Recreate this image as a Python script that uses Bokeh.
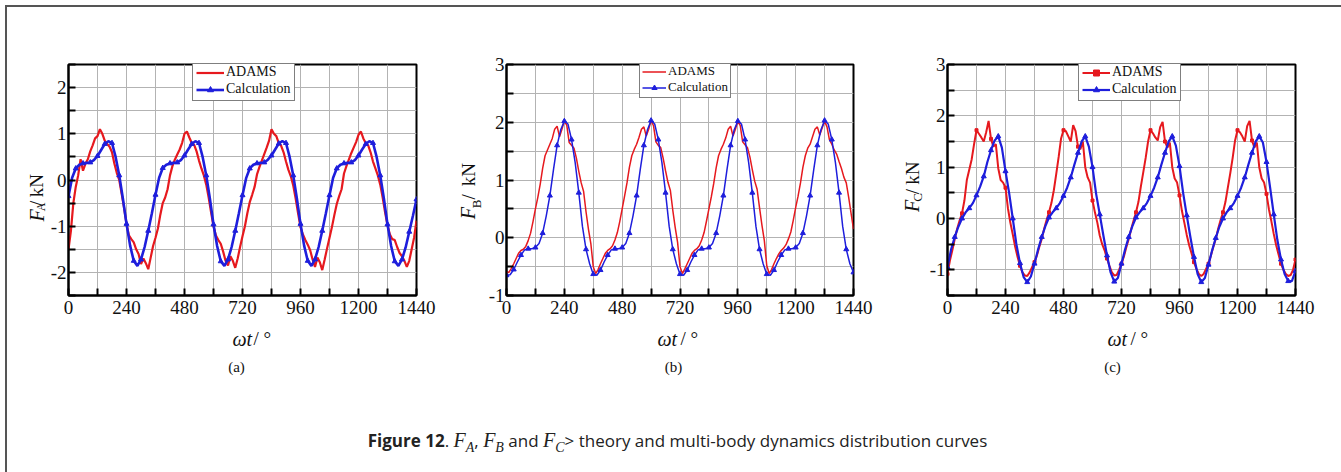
from bokeh.plotting import figure
from bokeh.models import Range1d, FixedTicker, Legend, LegendItem, Div
from bokeh.layouts import row, column
from bokeh.core.properties import value
from bokeh.embed import file_html
from bokeh.resources import INLINE

# ---------------- data ----------------
ANGLE_MAJOR = [0, 240, 480, 720, 960, 1200, 1440]
ANGLE_MINOR = [120, 360, 600, 840, 1080, 1320]
ANGLE_GRID = [0, 120, 240, 360, 480, 600, 720, 840, 960, 1080, 1200, 1320, 1440]

ADAMS_STEP = 10      # deg between ADAMS samples
CALC_STEP = 15       # deg between calculation samples

FA_ADAMS = [
    -1.50, -1.10, -0.50, -0.15, 0.10, 0.45, 0.20, 0.35, 0.45, 0.62, 0.75, 0.90, 0.95, 1.10, 1.00, 0.85, 0.78, 0.72,
    0.60, 0.35, 0.15, 0.00, -0.30, -0.60, -0.95, -1.20, -1.28, -1.35, -1.50, -1.60, -1.82, -1.70, -1.80, -1.93, -1.68, -1.43,
    -1.25, -1.05, -0.75, -0.50, -0.38, -0.20, 0.10, 0.30, 0.44, 0.55, 0.66, 0.80, 1.00, 1.05, 0.92, 0.80, 0.76, 0.62,
    0.42, 0.25, 0.10, -0.10, -0.38, -0.70, -1.00, -1.20, -1.30, -1.38, -1.55, -1.75, -1.85, -1.65, -1.75, -1.90, -1.70, -1.45,
    -1.22, -1.00, -0.72, -0.48, -0.32, -0.15, 0.12, 0.28, 0.42, 0.56, 0.70, 0.85, 1.10, 1.00, 0.95, 0.80, 0.74, 0.60,
    0.40, 0.22, 0.08, -0.12, -0.40, -0.72, -1.02, -1.18, -1.30, -1.40, -1.52, -1.72, -1.88, -1.68, -1.78, -1.95, -1.72, -1.48,
    -1.25, -1.02, -0.76, -0.52, -0.35, -0.20, 0.14, 0.30, 0.44, 0.58, 0.70, 0.82, 0.98, 1.05, 0.90, 0.80, 0.75, 0.60,
    0.40, 0.25, 0.10, -0.10, -0.38, -0.70, -0.98, -1.18, -1.28, -1.30, -1.45, -1.58, -1.65, -1.75, -1.88, -1.75, -1.50, -1.25,
    -0.88,
]
FA_CALC = [
    -0.35, 0.05, 0.25, 0.33, 0.36, 0.37, 0.38, 0.43, 0.52, 0.65, 0.78, 0.84, 0.80, 0.50, 0.10, -0.40, -0.95, -1.42, -1.75, -1.86, -1.72, -1.45, -1.10, -0.72,
    -0.32, 0.05, 0.26, 0.33, 0.36, 0.37, 0.38, 0.43, 0.53, 0.66, 0.78, 0.84, 0.80, 0.50, 0.10, -0.40, -0.96, -1.43, -1.76, -1.86, -1.72, -1.45, -1.10, -0.72,
    -0.33, 0.04, 0.25, 0.33, 0.36, 0.37, 0.38, 0.44, 0.53, 0.66, 0.79, 0.84, 0.80, 0.50, 0.10, -0.40, -0.95, -1.42, -1.75, -1.86, -1.72, -1.45, -1.10, -0.72,
    -0.33, 0.05, 0.25, 0.33, 0.36, 0.37, 0.38, 0.43, 0.53, 0.66, 0.78, 0.84, 0.80, 0.50, 0.10, -0.40, -0.96, -1.43, -1.76, -1.86, -1.72, -1.46, -1.12, -0.78,
    -0.42,
]

FB_ADAMS = [
    -0.59, -0.60, -0.53, -0.45, -0.36, -0.27, -0.22, -0.20, -0.15, -0.05, 0.08, 0.28, 0.50, 0.70, 0.93, 1.20, 1.42, 1.52,
    1.62, 1.72, 1.88, 1.93, 1.75, 1.88, 2.02, 1.95, 1.65, 1.60, 1.55, 1.38, 1.15, 0.95, 0.80, 0.45, 0.15, -0.10,
    -0.50, -0.62, -0.55, -0.45, -0.36, -0.27, -0.22, -0.19, -0.14, -0.04, 0.09, 0.28, 0.50, 0.72, 0.95, 1.22, 1.42, 1.53,
    1.62, 1.74, 1.88, 1.92, 1.76, 1.88, 2.03, 1.94, 1.66, 1.60, 1.56, 1.38, 1.16, 0.96, 0.82, 0.48, 0.18, -0.08,
    -0.50, -0.62, -0.54, -0.45, -0.36, -0.27, -0.22, -0.19, -0.14, -0.04, 0.09, 0.29, 0.50, 0.71, 0.94, 1.21, 1.42, 1.53,
    1.62, 1.73, 1.88, 1.93, 1.76, 1.88, 2.02, 1.94, 1.66, 1.61, 1.56, 1.40, 1.18, 0.98, 0.84, 0.52, 0.22, -0.05,
    -0.48, -0.62, -0.55, -0.45, -0.36, -0.28, -0.22, -0.18, -0.12, -0.02, 0.10, 0.30, 0.52, 0.72, 0.95, 1.22, 1.42, 1.55,
    1.62, 1.75, 1.88, 1.92, 1.78, 1.90, 2.02, 1.92, 1.70, 1.62, 1.52, 1.45, 1.32, 1.20, 1.05, 0.95, 0.70, 0.42,
    0.15,
]
FB_CALC = [
    -0.65, -0.64, -0.55, -0.42, -0.30, -0.21, -0.19, -0.19, -0.17, -0.10, 0.08, 0.38, 0.73, 1.18, 1.60, 1.87, 2.02, 1.97, 1.70, 1.30, 0.78, 0.20, -0.20, -0.45,
    -0.63, -0.65, -0.56, -0.42, -0.30, -0.21, -0.19, -0.19, -0.17, -0.10, 0.08, 0.38, 0.73, 1.18, 1.60, 1.87, 2.03, 1.97, 1.70, 1.30, 0.78, 0.20, -0.20, -0.45,
    -0.63, -0.65, -0.56, -0.42, -0.30, -0.21, -0.19, -0.19, -0.17, -0.10, 0.08, 0.38, 0.73, 1.18, 1.60, 1.87, 2.02, 1.97, 1.70, 1.30, 0.78, 0.20, -0.20, -0.45,
    -0.63, -0.65, -0.56, -0.42, -0.30, -0.21, -0.19, -0.19, -0.17, -0.10, 0.08, 0.38, 0.73, 1.18, 1.60, 1.87, 2.03, 1.97, 1.70, 1.30, 0.78, 0.20, -0.20, -0.45,
    -0.60,
]

FC_ADAMS = [
    -1.08, -0.82, -0.62, -0.40, -0.20, -0.04, 0.10, 0.35, 0.75, 0.95, 1.15, 1.45, 1.72, 1.65, 1.58, 1.50, 1.68, 1.90,
    1.55, 1.40, 1.45, 0.98, 0.75, 0.70, 0.60, 0.20, -0.08, -0.31, -0.55, -0.75, -0.92, -1.05, -1.11, -1.12, -1.05, -0.95,
    -0.85, -0.72, -0.55, -0.40, -0.20, -0.03, 0.12, 0.30, 0.55, 0.87, 1.20, 1.56, 1.72, 1.70, 1.60, 1.50, 1.82, 1.70,
    1.40, 1.35, 1.50, 1.00, 0.80, 0.70, 0.35, 0.12, -0.08, -0.33, -0.50, -0.62, -0.78, -0.92, -1.05, -1.11, -1.10, -1.00,
    -0.88, -0.74, -0.56, -0.40, -0.21, -0.04, 0.12, 0.32, 0.62, 0.90, 1.18, 1.50, 1.72, 1.66, 1.58, 1.52, 1.78, 1.88,
    1.50, 1.38, 1.48, 1.00, 0.78, 0.70, 0.45, 0.15, -0.08, -0.32, -0.52, -0.68, -0.85, -0.98, -1.08, -1.12, -1.08, -0.98,
    -0.88, -0.72, -0.55, -0.40, -0.20, -0.03, 0.12, 0.32, 0.60, 0.88, 1.18, 1.52, 1.72, 1.68, 1.60, 1.50, 1.80, 1.90,
    1.52, 1.38, 1.48, 1.00, 0.78, 0.70, 0.48, 0.18, -0.05, -0.30, -0.52, -0.70, -0.88, -1.00, -1.08, -1.12, -1.10, -1.00,
    -0.80,
]
FC_CALC = [
    -0.95, -0.60, -0.36, -0.16, 0.00, 0.12, 0.20, 0.30, 0.45, 0.62, 0.82, 1.10, 1.33, 1.52, 1.60, 1.38, 0.92, 0.50, 0.00, -0.50, -0.87, -1.14, -1.24, -1.13,
    -0.88, -0.60, -0.36, -0.15, 0.02, 0.12, 0.20, 0.30, 0.44, 0.60, 0.80, 1.05, 1.28, 1.50, 1.60, 1.40, 1.00, 0.48, 0.08, -0.33, -0.72, -1.05, -1.23, -1.16,
    -0.88, -0.60, -0.36, -0.15, 0.02, 0.12, 0.20, 0.30, 0.44, 0.60, 0.80, 1.05, 1.28, 1.50, 1.60, 1.42, 1.02, 0.50, 0.06, -0.36, -0.75, -1.08, -1.24, -1.16,
    -0.90, -0.62, -0.38, -0.16, 0.00, 0.12, 0.20, 0.30, 0.44, 0.60, 0.80, 1.05, 1.28, 1.50, 1.60, 1.48, 1.10, 0.60, 0.08, -0.42, -0.80, -1.08, -1.22, -1.22,
    -1.02,
]

LEGEND_LABELS = ["ADAMS", "Calculation"]
PANEL_TAGS = ["(a)", "(b)", "(c)"]
FORCE_SUBS = ["A", "B", "C"]

RED = "#e6191e"
BLUE = "#1e1edc"
SERIF = "Liberation Serif"
INK = "#111111"

ROW_H = 315          # height of the row of charts
OX, OY = 7, 7        # page position of the content origin


def panel(width, bl, br, bt, ymin, ymax, ymajor, yminor, adams, calc, lw_red, lw_blue,
          legend_loc, legend_font, glyph_w, item_h, pad, spacing, red_marker):
    p = figure(width=width, height=ROW_H, output_backend="svg", toolbar_location=None,
               x_range=Range1d(0, 1440), y_range=Range1d(ymin, ymax),
               min_border_left=bl, min_border_right=br, min_border_top=bt,
               min_border_bottom=ROW_H - bt - 233,
               background_fill_color="white", border_fill_color="white")
    p.outline_line_color = "black"
    p.outline_line_width = 2
    for ax in (p.xaxis[0], p.yaxis[0]):
        ax.axis_line_color = "black"
        ax.axis_line_width = 2
        ax.major_tick_in = 7
        ax.major_tick_out = 0
        ax.minor_tick_in = 7
        ax.minor_tick_out = 0
        ax.major_tick_line_width = 2
        ax.minor_tick_line_width = 2
        ax.major_tick_line_color = "black"
        ax.minor_tick_line_color = "black"
        ax.major_label_text_font = SERIF
        ax.major_label_text_font_size = "19px"
        ax.major_label_text_color = INK
    p.xaxis.ticker = FixedTicker(ticks=ANGLE_MAJOR, minor_ticks=ANGLE_MINOR)
    p.xaxis.major_label_standoff = 5
    p.yaxis.ticker = FixedTicker(ticks=ymajor, minor_ticks=yminor)
    p.yaxis.major_label_standoff = 2
    p.yaxis.major_label_overrides = {v: str(v) for v in ymajor}
    p.xgrid.ticker = FixedTicker(ticks=ANGLE_GRID)
    p.ygrid.ticker = FixedTicker(ticks=sorted(ymajor + yminor))
    for g in (p.xgrid[0], p.ygrid[0]):
        g.grid_line_color = "#b3b3b3"
        g.grid_line_width = 1

    xa = [i * ADAMS_STEP for i in range(len(adams))]
    xc = [i * CALC_STEP for i in range(len(calc))]
    r_red = p.line(xa, adams, line_color=RED, line_width=lw_red)
    red_items = [r_red]
    if red_marker:
        red_items.append(p.scatter(xa[::6], adams[::6], marker="square", size=3,
                                   fill_color=RED, line_color=RED))
    r_blue = p.line(xc, calc, line_color=BLUE, line_width=lw_blue)
    r_bm = p.scatter(xc[::2], calc[::2], marker="triangle", size=5, fill_color=BLUE, line_color=BLUE)

    leg = Legend(items=[LegendItem(label=LEGEND_LABELS[0], renderers=red_items),
                        LegendItem(label=LEGEND_LABELS[1], renderers=[r_blue, r_bm])],
                 location=legend_loc, border_line_color="black", border_line_width=1,
                 background_fill_color="white", background_fill_alpha=1.0,
                 label_text_font=SERIF, label_text_font_size=f"{legend_font}px",
                 label_text_color=INK,
                 glyph_width=glyph_w, glyph_height=item_h, label_height=item_h,
                 label_standoff=2, padding=pad, spacing=spacing, margin=0)
    p.add_layout(leg)
    return p


def text_canvas(width, height):
    c = figure(width=width, height=height, output_backend="svg", toolbar_location=None,
               x_range=Range1d(0, width), y_range=Range1d(0, height),
               x_axis_type=None, y_axis_type=None, min_border=0,
               background_fill_color="white", border_fill_color="white")
    c.outline_line_color = None
    c.grid.visible = False
    return c


def put(c, origin, height, px, py, text, size, style="normal", angle=0.0, align="left",
        baseline="alphabetic"):
    # px, py: page position (pixels from the top-left of the page) of the text anchor
    c.text(x=[px - origin[0]], y=[height - (py - origin[1])], text=[text],
           text_font=value(SERIF), text_font_size=value(f"{size}px"),
           text_font_style=value(style), text_align=value(align),
           text_baseline=value(baseline), text_color=INK, angle=angle)


def ylabel(width, left_page, sub, f_pos, s_pos, sl_pos, k_pos, sub_size=13):
    # rotated title "F_x / kN"; positions are (glyph centre x, start y) on the page
    c = text_canvas(width, ROW_H)
    o = (left_page, OY)
    put(c, o, ROW_H, f_pos[0], f_pos[1], "F", 20, "italic", 1.5708, "left", "middle")
    put(c, o, ROW_H, s_pos[0], s_pos[1], sub, sub_size, "normal", 1.5708, "left", "middle")
    put(c, o, ROW_H, sl_pos[0], sl_pos[1], "/", 19, "normal", 1.5708, "left", "middle")
    put(c, o, ROW_H, k_pos[0], k_pos[1], "kN", 19, "normal", 1.5708, "left", "middle")
    return c


# y-axis titles (rotated) and charts
ya = ylabel(39, 7, FORCE_SUBS[0], (36, 221), (40, 207), (36, 200), (36, 188), 12)
fa = panel(409, 22, 39, 57, -2.5, 2.5, [-2, -1, 0, 1, 2], [-2.5, -1.5, -0.5, 0.5, 1.5, 2.5],
           FA_ADAMS, FA_CALC, 2.2, 2.6, (124, 194), 14, 28, 15, 3, 1, False)
yb = ylabel(29, 455, FORCE_SUBS[1], (467, 218), (476, 203), (468, 191), (468, 173))
fb = panel(416, 22, 47, 57, -1, 3, [-1, 0, 1, 2, 3], [-0.5, 0.5, 1.5, 2.5],
           FB_ADAMS, FB_CALC, 1.5, 1.5, (133, 197), 13, 24, 13, 2, 0, False)
yc = ylabel(25, 900, FORCE_SUBS[2], (911, 208), (917, 194), (912, 184), (912, 171))
fc = panel(413, 22, 43, 55, -1.5, 3, [-1, 0, 1, 2, 3], [-1.5, -0.5, 0.5, 1.5, 2.5],
           FC_ADAMS, FC_CALC, 2.0, 2.2, (131, 194), 14, 28, 15, 3, 1, True)

# x-axis titles and panel tags
BOT_H = 58
bot = text_canvas(1331, BOT_H)
bo = (OX, OY + ROW_H)
for (wx, tx, tagx), tag in zip([(232, 253, 236), (657, 680, 673), (1107, 1130, 1112)], PANEL_TAGS):
    put(bot, bo, BOT_H, wx, 338, "ωt", 20, "italic")
    put(bot, bo, BOT_H, tx, 338, "/ °", 19, "normal")
    put(bot, bo, BOT_H, tagx, 366, tag, 15, "normal", 0.0, "center")

math = "font-family:'Liberation Serif';font-style:italic;font-size:20px"
subst = "font-size:14px"
caption_html = (
    "<div style=\"width:1331px;padding-top:41px;text-align:center;font-family:'Open Sans';"
    "font-size:17px;color:#222;white-space:nowrap\">"
    "<b>Figure 12</b>. "
    f"<span style=\"{math}\">F<sub style=\"{subst}\">A</sub></span>, "
    f"<span style=\"{math}\">F<sub style=\"{subst}\">B</sub></span> and "
    f"<span style=\"{math}\">F<sub style=\"{subst}\">C</sub></span>&gt; theory and multi-body dynamics distribution curves"
    "</div>"
)
cap = Div(text=caption_html, width=1331, height=85)

page = column(row(ya, fa, yb, fb, yc, fc), bot, cap,
              styles={"margin-left": "5px", "margin-top": "5px",
                      "border-top": "2px solid #555555", "border-left": "2px solid #555555",
                      "border-right": "2px solid #555555"})

open("out.html", "w").write(file_html(page, INLINE))
